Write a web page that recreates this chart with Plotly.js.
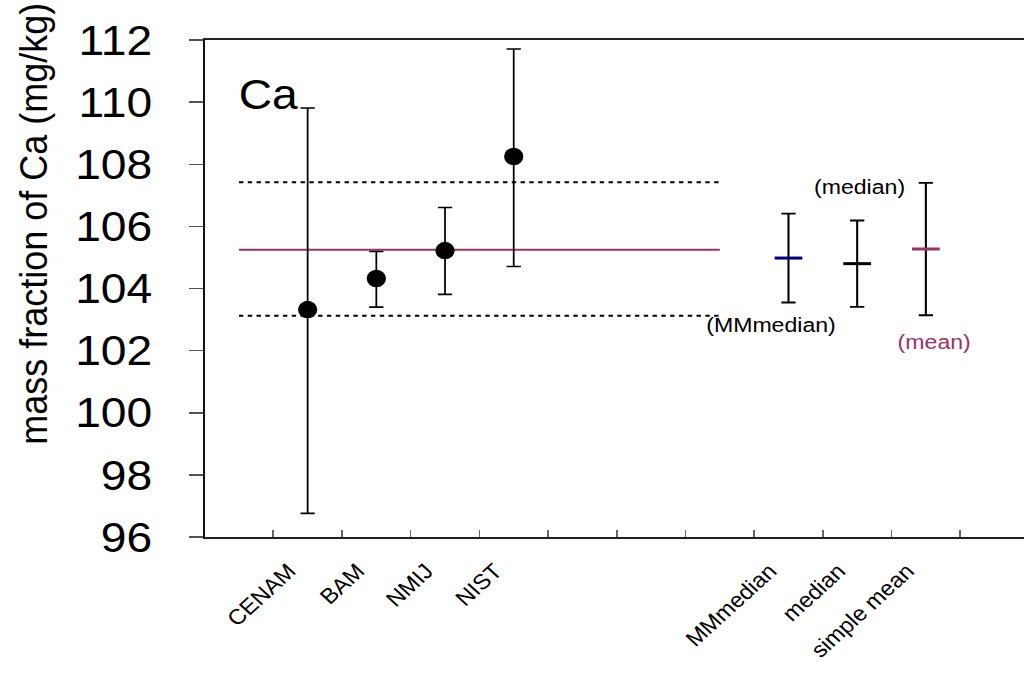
<!DOCTYPE html>
<html>
<head>
<meta charset="utf-8">
<script src="https://cdn.plot.ly/plotly-3.0.1.min.js"></script>
<style>
html,body{margin:0;padding:0;background:#fff;overflow:hidden;width:1024px;height:678px;}
#chart{width:931px;height:678px;transform:scaleX(1.1);transform-origin:0 0;}
</style>
</head>
<body>
<div id="chart"></div>
<script>
// Category slots along the x axis (blank slots are unnamed gaps)
const categories = [" ", "CENAM", "BAM", "NMIJ", "NIST", "  ", "   ", "    ", "MMmedian", "median", "simple mean", "     "];

// Laboratory results
const labNames = ["CENAM", "BAM", "NMIJ", "NIST"];
const labValues = [103.32, 104.32, 105.22, 108.25];
const labUpper = [6.49, 0.87, 1.39, 3.46];
const labLower = [6.56, 0.92, 1.41, 3.54];

// Consensus estimators
const estNames = ["MMmedian", "median", "simple mean"];
const estValues = [104.98, 104.80, 105.27];
const estUncert = [1.43, 1.39, 2.13];
const estColors = ["#000080", "#000000", "#993366"];

// Reference lines (mean and its uncertainty band)
const lineSpan = [" ", "    "];
const meanLine = 105.25;
const bandUpper = 107.42;
const bandLower = 103.12;

const yTicks = [96, 98, 100, 102, 104, 106, 108, 110, 112];

const traces = [];

traces.push({
  x: lineSpan, y: [bandUpper, bandUpper], mode: 'lines', type: 'scatter',
  line: {color: '#000', width: 2, dash: '4px,4px'}, hoverinfo: 'skip', showlegend: false
});
traces.push({
  x: lineSpan, y: [bandLower, bandLower], mode: 'lines', type: 'scatter',
  line: {color: '#000', width: 2, dash: '4px,4px'}, hoverinfo: 'skip', showlegend: false
});
traces.push({
  x: lineSpan, y: [meanLine, meanLine], mode: 'lines', type: 'scatter',
  line: {color: '#993366', width: 2}, hoverinfo: 'skip', showlegend: false
});

traces.push({
  x: labNames, y: labValues, mode: 'markers', type: 'scatter',
  marker: {color: '#000', size: 17.5, symbol: 'circle'},
  error_y: {type: 'data', symmetric: false, array: labUpper, arrayminus: labLower,
            color: '#000', thickness: 1.6, width: 6.5},
  showlegend: false
});

for (let i = 0; i < estNames.length; i++) {
  traces.push({
    x: [estNames[i]], y: [estValues[i]], mode: 'markers', type: 'scatter',
    marker: {symbol: 'line-ew', size: 18, color: estColors[i], line: {width: 3, color: estColors[i]}},
    error_y: {type: 'data', array: [estUncert[i]], color: '#000', thickness: 1.9, width: 6.5},
    showlegend: false
  });
}

const layout = {
  width: 931, height: 678,
  margin: {l: 185.5, r: 0, t: 40, b: 141},
  paper_bgcolor: '#fff', plot_bgcolor: '#fff',
  font: {family: 'Liberation Sans, Arial, sans-serif', color: '#000'},
  showlegend: false,
  xaxis: {
    type: 'category', categoryorder: 'array', categoryarray: categories,
    range: [-0.5, 11.43],
    tickson: 'boundaries', ticks: 'inside', ticklen: 7, tickwidth: 1.5, tickcolor: '#666',
    tickangle: -45, tickfont: {size: 21.5, color: '#000'},
    ticklabelstandoff: 11, ticklabelshift: -17,
    showline: true, linecolor: '#222', linewidth: 2, mirror: true,
    showgrid: false, zeroline: false, fixedrange: true
  },
  yaxis: {
    range: [96, 112], tickvals: yTicks, ticktext: yTicks.map(String),
    ticks: 'outside', ticklen: 12.7, tickwidth: 1.5, tickcolor: '#555',
    tickfont: {size: 42, color: '#000'}, ticklabelstandoff: 25,
    showline: true, linecolor: '#111', linewidth: 1.5,
    showgrid: false, zeroline: false, fixedrange: true
  },
  annotations: [
    {text: 'mass fraction of Ca (mg/kg)', xref: 'paper', yref: 'paper', x: 0, xshift: -155,
     y: 0.63, xanchor: 'center', yanchor: 'middle', textangle: -90, showarrow: false,
     borderpad: 0, font: {size: 36, color: '#000'}},
    {text: 'Ca', xref: 'paper', yref: 'y', x: 0, xshift: 58, y: 110.25, xanchor: 'center', yanchor: 'middle',
     showarrow: false, font: {size: 42, color: '#000'}},
    {text: '(median)', xref: 'x', yref: 'y', x: 'median', y: 107.28, xshift: 2, xanchor: 'center', yanchor: 'middle',
     showarrow: false, font: {size: 21, color: '#000'}},
    {text: '(MMmedian)', xref: 'x', yref: 'y', x: 'MMmedian', y: 102.83, xshift: -15.5, xanchor: 'center', yanchor: 'middle',
     showarrow: false, font: {size: 21, color: '#000'}},
    {text: '(mean)', xref: 'x', yref: 'y', x: 'simple mean', y: 102.31, xshift: 8, xanchor: 'center', yanchor: 'middle',
     showarrow: false, font: {size: 21, color: '#993366'}}
  ]
};

Plotly.newPlot('chart', traces, layout, {displayModeBar: false, staticPlot: true});
</script>
</body>
</html>
